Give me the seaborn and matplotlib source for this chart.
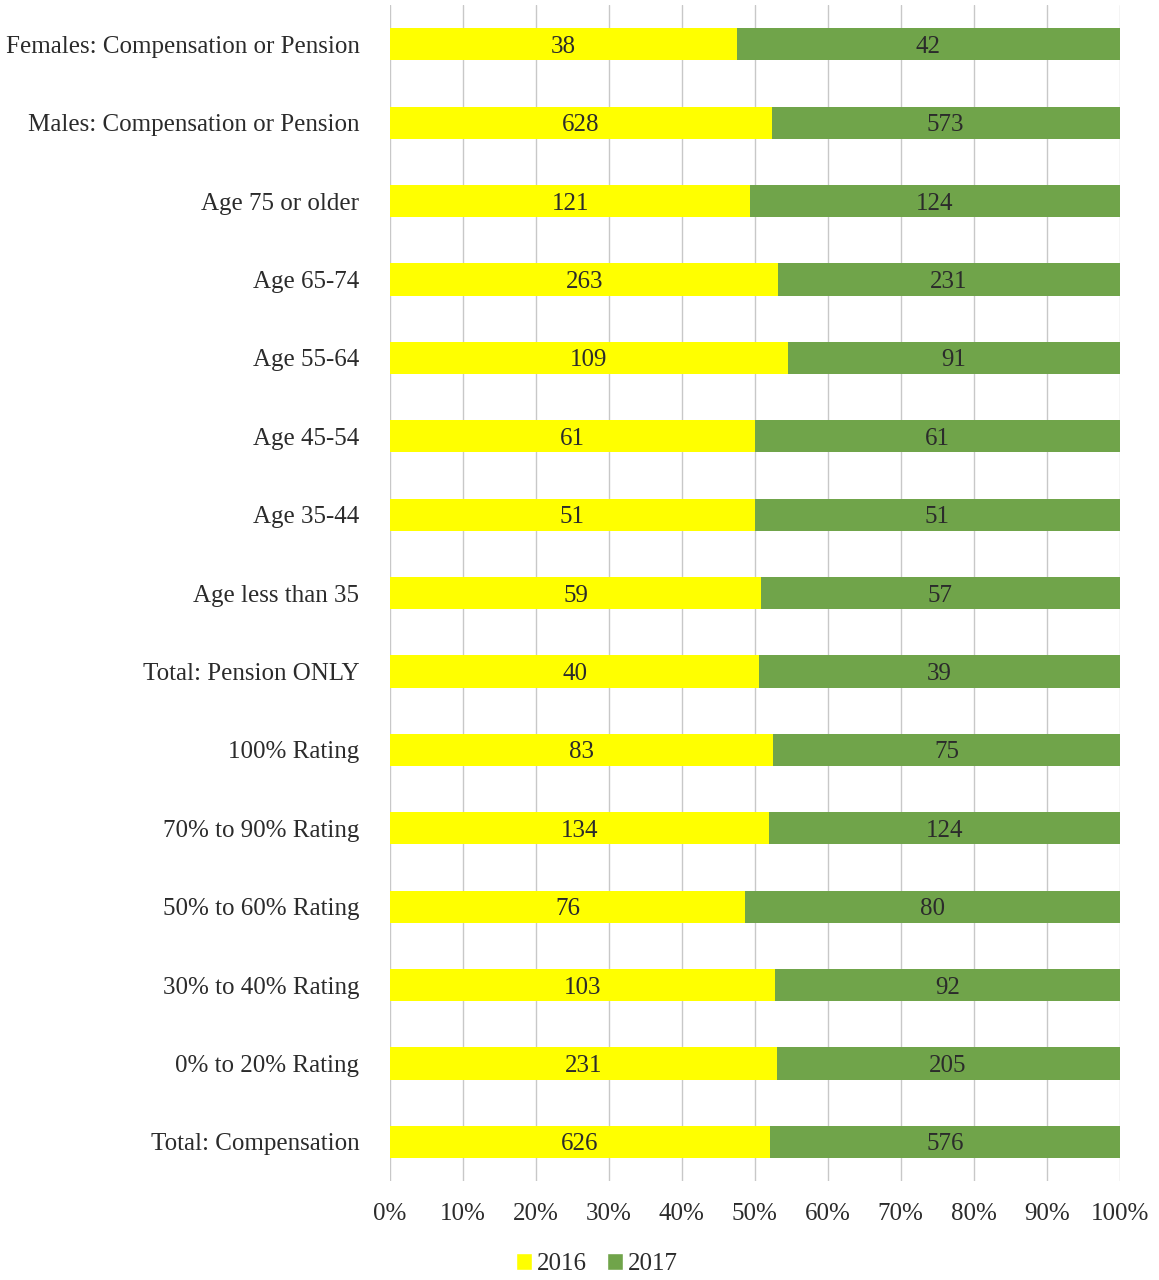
import numpy as np
import pandas as pd
import matplotlib.pyplot as plt
import seaborn as sns
from matplotlib.patches import Patch

# data (counts per year, bars are 100% stacked)
categories = [
    "Females: Compensation or Pension",
    "Males: Compensation or Pension",
    "Age 75 or older",
    "Age 65-74",
    "Age 55-64",
    "Age 45-54",
    "Age 35-44",
    "Age less than 35",
    "Total: Pension ONLY",
    "100% Rating",
    "70% to 90% Rating",
    "50% to 60% Rating",
    "30% to 40% Rating",
    "0% to 20% Rating",
    "Total: Compensation",
]
count_2016 = [38, 628, 121, 263, 109, 61, 51, 59, 40, 83, 134, 76, 103, 231, 626]
count_2017 = [42, 573, 124, 231, 91, 61, 51, 57, 39, 75, 124, 80, 92, 205, 576]
xticks = [0, 10, 20, 30, 40, 50, 60, 70, 80, 90, 100]

df = pd.DataFrame({"category": categories, "y2016": count_2016, "y2017": count_2017})
df["total"] = df["y2016"] + df["y2017"]
df["pct2016"] = df["y2016"] / df["total"] * 100
df["pct_all"] = 100.0

sns.set_theme(style="white")
plt.rcParams["font.family"] = ["Liberation Serif", "DejaVu Serif"]

yellow = "#FFFF00"
green = "#70A44A"
txt = "#2b2b2b"
fs = 18

fig = plt.figure(figsize=(11.59, 12.8), dpi=100)
ax = fig.add_axes([0.3365, 0.0773, 0.6295, 0.9187])

# green = full bar, yellow drawn on top -> stacked look
sns.barplot(data=df, x="pct_all", y="category", order=categories, color=green,
            width=0.41, saturation=1, linewidth=0, ax=ax, zorder=2)
sns.barplot(data=df, x="pct2016", y="category", order=categories, color=yellow,
            width=0.41, saturation=1, linewidth=0, ax=ax, zorder=3)

for i, row in df.iterrows():
    ax.text(row["pct2016"] / 2, i, str(row["y2016"]), ha="center", va="center_baseline",
            fontsize=fs, color=txt, zorder=4)
    ax.text((row["pct2016"] + 100) / 2, i, str(row["y2017"]), ha="center",
            va="center_baseline", fontsize=fs, color=txt, zorder=4)

ax.set_xlim(0, 100)
ax.set_ylim(len(categories) - 0.5, -0.5)
ax.set_xticks(xticks)
ax.set_xticklabels([f"{t}%" for t in xticks], fontsize=fs, color=txt)
ax.tick_params(axis="y", labelsize=fs, labelcolor=txt, length=0, pad=22)
ax.tick_params(axis="x", length=0, pad=16)
ax.set_xlabel("")
ax.set_ylabel("")
ax.grid(axis="x", color="#c8c8c8", linewidth=1, zorder=0)
ax.set_axisbelow(True)
for s in ax.spines.values():
    s.set_visible(False)

handles = [Patch(facecolor=yellow, label="2016"), Patch(facecolor=green, label="2017")]
fig.legend(handles=handles, loc="lower center", bbox_to_anchor=(0.515, -0.014), ncol=2,
           frameon=False, fontsize=fs, handlelength=0.65, handleheight=0.65,
           handletextpad=0.2, columnspacing=0.8, labelcolor=txt)

fig.savefig("out.png", dpi=100)
